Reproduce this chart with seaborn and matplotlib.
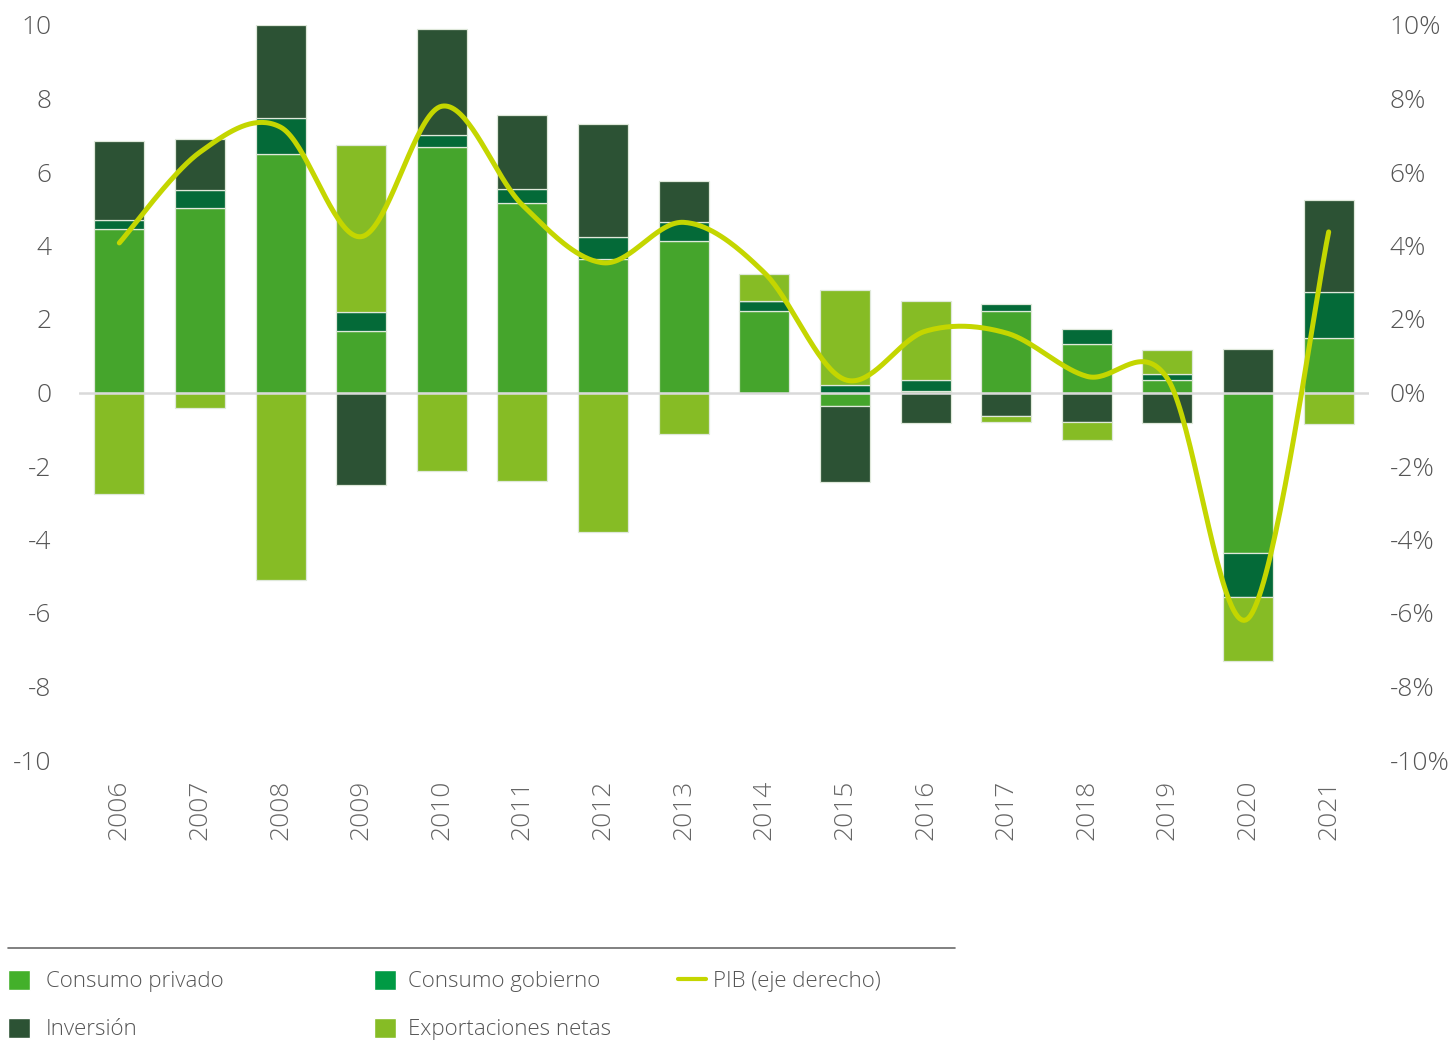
import numpy as np
import matplotlib
matplotlib.use("Agg")
import matplotlib.pyplot as plt
import seaborn as sns
from matplotlib.patches import Patch
from matplotlib.lines import Line2D

# ---------------- data ----------------
years = [str(y) for y in range(2006, 2022)]
consumo_privado = [4.46, 5.03, 6.48, 1.66, 6.69, 5.17, 3.62, 4.12, 2.23, -0.38, 0.05, 2.23, 1.33, 0.33, -4.37, 1.47]
consumo_gobierno = [0.24, 0.48, 0.98, 0.54, 0.32, 0.37, 0.62, 0.51, 0.25, 0.20, 0.30, 0.18, 0.39, 0.16, -1.20, 1.27]
inversion = [2.13, 1.40, 2.53, -2.51, 2.89, 2.02, 3.07, 1.12, 0.00, -2.06, -0.83, -0.63, -0.81, -0.83, 1.19, 2.50]
exportaciones_netas = [-2.76, -0.42, -5.11, 4.53, -2.14, -2.41, -3.80, -1.14, 0.75, 2.58, 2.13, -0.18, -0.47, 0.66, -1.74, -0.86]
pib = [4.07, 6.54, 7.22, 4.24, 7.79, 5.10, 3.53, 4.63, 3.26, 0.35, 1.67, 1.62, 0.44, 0.38, -6.15, 4.37]

left_ticks = [-10, -8, -6, -4, -2, 0, 2, 4, 6, 8, 10]
left_labels = [str(v) for v in left_ticks]
right_labels = [f"{v}%" for v in left_ticks]

series_names = ["Consumo privado", "Consumo gobierno", "Inversión", "Exportaciones netas"]
bar_colors = ["#45a52c", "#046a38", "#2c5234", "#86bc25"]
legend_colors = ["#43b02a", "#009a44", "#2c5234", "#86bc25"]
line_color = "#c4d600"
text_color = "#555555"

# ---------------- style ----------------
sns.set_theme(style="white")
plt.rcParams["font.family"] = ["Open Sans", "DejaVu Sans"]
plt.rcParams["font.weight"] = "light"
plt.rcParams["axes.unicode_minus"] = False

fig = plt.figure(figsize=(14.5, 10.42), dpi=100)
ax = fig.add_axes([79 / 1450, 1 - 760 / 1042, (1369 - 79) / 1450, (760 - 25) / 1042])

x = np.arange(len(years))
pos_base = np.zeros(len(years))
neg_base = np.zeros(len(years))
for vals, color in zip([consumo_privado, consumo_gobierno, inversion, exportaciones_netas], bar_colors):
    v = np.array(vals, dtype=float)
    bottom = np.where(v >= 0, pos_base, neg_base)
    sns.barplot(x=x, y=v, bottom=bottom, native_scale=True, width=0.62, color=color,
                saturation=1, edgecolor="#dfe8da", linewidth=0.9, errorbar=None, ax=ax, zorder=2)
    pos_base += np.where(v > 0, v, 0)
    neg_base += np.where(v < 0, v, 0)

ax.axhline(0, color="#d9d9d9", lw=1.8, zorder=3)
ax.set_xlim(-0.5, len(years) - 0.5)
ax.set_ylim(-10, 10)
ax.set_yticks(left_ticks)
ax.set_yticklabels(left_labels)
ax.set_xticks(x)
ax.set_xticklabels(years, rotation=90)
ax.tick_params(axis="y", length=0, pad=20, labelsize=19, labelcolor=text_color)
ax.tick_params(axis="x", length=0, pad=14, labelsize=19, labelcolor="#666666")
ax.set_xlabel("")
ax.set_ylabel("")
for s in ax.spines.values():
    s.set_visible(False)

# ---------------- PIB smoothed line (right axis) ----------------
ax2 = ax.twinx()
P = np.column_stack([x, np.array(pib, dtype=float)])
Pext = np.vstack([P[0], P, P[-1]])
curve = []
ts = np.linspace(0, 1, 40)
for i in range(len(P) - 1):
    p0, p1, p2, p3 = Pext[i], Pext[i + 1], Pext[i + 2], Pext[i + 3]
    b0, b3 = p1, p2
    b1 = p1 + (p2 - p0) / 6.0
    b2 = p2 - (p3 - p1) / 6.0
    for t in ts[:-1] if i < len(P) - 2 else ts:
        pt = ((1 - t) ** 3) * b0 + 3 * ((1 - t) ** 2) * t * b1 + 3 * (1 - t) * t ** 2 * b2 + t ** 3 * b3
        curve.append(pt)
curve = np.array(curve)
sns.lineplot(x=curve[:, 0], y=curve[:, 1], sort=False, estimator=None, color=line_color,
             lw=3.6, ax=ax2, solid_capstyle="round")
ax2.set_ylim(-10, 10)
ax2.set_yticks(left_ticks)
ax2.set_yticklabels(right_labels)
ax2.tick_params(axis="y", length=0, pad=15, labelsize=19, labelcolor=text_color)
ax2.set_ylabel("")
for s in ax2.spines.values():
    s.set_visible(False)
ax2.set_xlim(-0.5, len(years) - 0.5)

# ---------------- legend ----------------
fig.add_artist(Line2D([8 / 1450, 955 / 1450], [1 - 948 / 1042] * 2, color="#6b6b6b", lw=1.2,
                      transform=fig.transFigure))

fs = 16
fs_px = fs * 100 / 72
entries = [
    (Patch(facecolor=legend_colors[0]), series_names[0], 8, 981, 16),
    (Patch(facecolor=legend_colors[1]), series_names[1], 374, 981, 12),
    (Patch(facecolor=legend_colors[2]), series_names[2], 8, 1029, 16),
    (Patch(facecolor=legend_colors[3]), series_names[3], 374, 1029, 12),
]
for h, lab, px, py, tp in entries:
    fig.legend(handles=[h], labels=[lab], loc="center left",
               bbox_to_anchor=(px / 1450, 1 - py / 1042), frameon=False, fontsize=fs,
               handlelength=22 / fs_px, handleheight=22 / fs_px, handletextpad=tp / fs_px,
               borderpad=0, borderaxespad=0, labelcolor=text_color)
fig.legend(handles=[Line2D([], [], color=line_color, lw=3)], labels=["PIB (eje derecho)"],
           loc="center left", bbox_to_anchor=(678 / 1450, 1 - 981 / 1042), frameon=False,
           fontsize=fs, handlelength=28 / fs_px, handletextpad=7 / fs_px, borderpad=0,
           borderaxespad=0, labelcolor=text_color)

fig.savefig("out.png", dpi=100)
